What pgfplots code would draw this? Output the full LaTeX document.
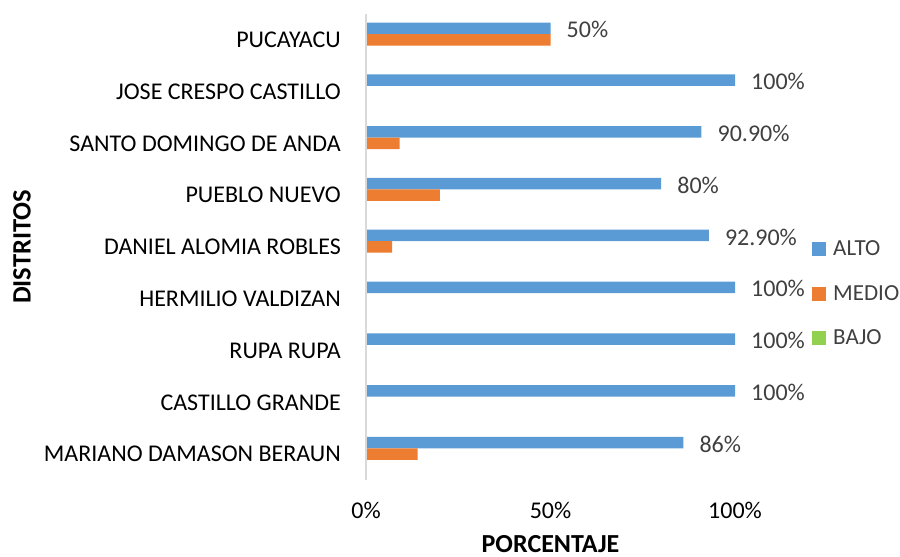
\documentclass[border=0pt]{standalone}
\usepackage{fontspec}
\setmainfont{Carlito}
\usepackage{pgfplots}
\usepackage{pgfplotstable}
\pgfplotsset{compat=1.18}
\definecolor{alto}{HTML}{5B9BD5}
\definecolor{medio}{HTML}{ED7D31}
\definecolor{bajo}{HTML}{92D050}
\definecolor{lbl}{HTML}{404040}
\definecolor{axl}{HTML}{D9D9D9}
\pgfplotstableread{
y alto medio bajo lab
0 86 14 0 86
1 100 0 0 100
2 100 0 0 100
3 100 0 0 100
4 92.9 7.1 0 92.90
5 80 20 0 80
6 90.9 9.1 0 90.90
7 100 0 0 100
8 50 50 0 50
}\datatable
\begin{document}
\begin{tikzpicture}
\begin{axis}[
  at={(366pt,77pt)}, anchor=south west,
  scale only axis, width=369pt, height=466pt,
  xmin=0, xmax=100, ymin=-0.5, ymax=8.5,
  xbar, bar width=11.5pt,
  clip=false,
  axis line style={draw=none},
  major tick length=0pt,
  ytick={0,...,8},
  yticklabels={MARIANO DAMASON BERAUN, CASTILLO GRANDE, RUPA RUPA, HERMILIO VALDIZAN, DANIEL ALOMIA ROBLES, PUEBLO NUEVO, SANTO DOMINGO DE ANDA, JOSE CRESPO CASTILLO, PUCAYACU},
  yticklabel style={font=\fontsize{24}{28}\selectfont, text=black, inner sep=0pt, anchor=east, xshift=-25pt},
  xtick={0,50,100}, xticklabels={0\%,50\%,100\%},
  xticklabel style={font=\fontsize{24}{28}\selectfont, text=black, inner sep=0pt, anchor=north, text height=15pt, yshift=-23pt},
  xlabel={\textbf{PORCENTAJE}},
  xlabel style={at={(axis description cs:0.5,0)}, anchor=north, inner sep=0pt, text height=17pt, text depth=0pt, yshift=-55pt, font=\fontsize{26}{30}\selectfont},
  ylabel={\textbf{DISTRITOS}},
  ylabel style={at={(axis description cs:-0.932,0.5)}, anchor=center, rotate=0, inner sep=0pt, font=\fontsize{26.5}{30}\selectfont},
  legend image code/.code={\fill[#1] (0pt,-7pt) rectangle (14pt,7pt);},
  legend style={at={(axis description cs:1,0.4)}, anchor=west, xshift=77pt, draw=none, fill=none, inner sep=0pt,
    font=\fontsize{23}{27}\selectfont, text=lbl, row sep=28pt,
    nodes={inner xsep=7pt, inner ysep=0pt}},
  legend cell align=left,
]
\addplot[fill=alto, draw=none, bar shift=11.5pt,
  nodes near coords={\pgfplotspointmeta\%},
  point meta=explicit symbolic,
  every node near coord/.append style={font=\fontsize{24}{28}\selectfont, text=lbl, anchor=west, inner sep=0pt, xshift=16pt, yshift=-1.5pt}]
  table[x=alto, y=y, meta=lab] {\datatable};
\addplot[fill=medio, draw=none, bar shift=0pt] table[x=medio, y=y] {\datatable};
\addplot[fill=bajo, draw=none, bar shift=-11.5pt] table[x=bajo, y=y] {\datatable};
\legend{ALTO, MEDIO, BAJO}
\draw[axl, line width=1.5pt] (rel axis cs:0,0) -- (rel axis cs:0,1);
\end{axis}
\pgfresetboundingbox
\path[use as bounding box] (0,0) rectangle (900pt,557pt);
\end{tikzpicture}
\end{document}
